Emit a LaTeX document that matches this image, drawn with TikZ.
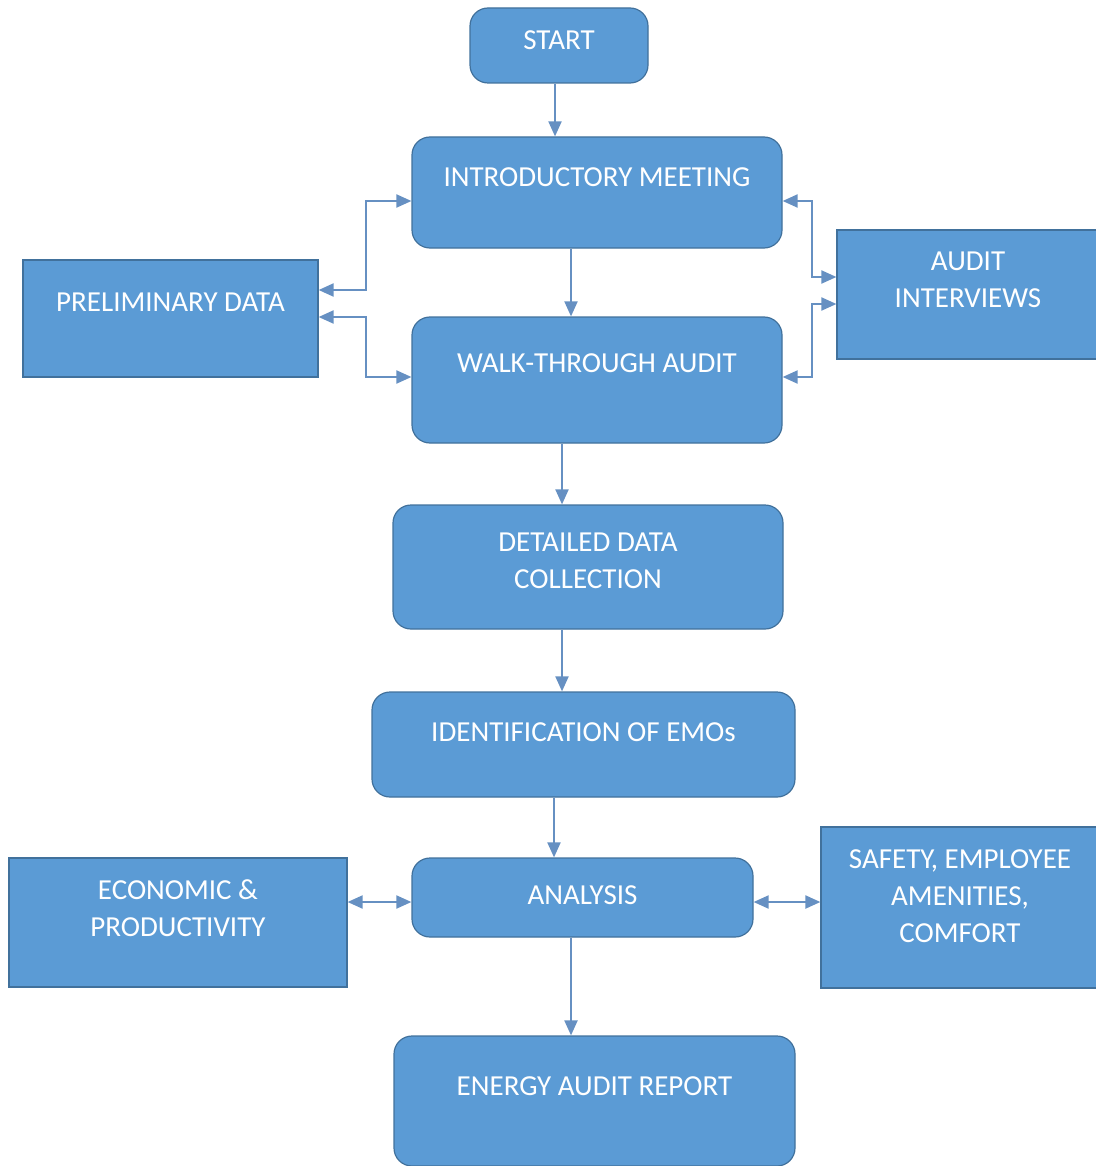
\documentclass[tikz,border=0pt]{standalone}
\usepackage{fontspec}
\setmainfont{Carlito}
\usetikzlibrary{arrows.meta,positioning,calc}
\definecolor{boxFill}{HTML}{5B9BD5}
\definecolor{boxLine}{HTML}{41719C}
\definecolor{linkColor}{HTML}{6690C2}
\tikzset{
	tip/.tip={Triangle[length=15pt,width=13pt]},
	link/.style={draw=linkColor, line width=2pt, -tip},
	both/.style={link, tip-tip}
}
\newcommand{\boxtxt}[2][0pt]{\begin{tabular}{c}#2\\[#1]\end{tabular}}

\begin{document}
\begin{tikzpicture}[x=1pt,y=-1pt,
				proc/.style={draw=boxLine, line width=1.2pt, fill=boxFill, rounded corners=18pt,
					text=white, inner sep=0pt, font=\fontsize{29}{37}\selectfont},
				side/.style={proc, sharp corners}]
				\useasboundingbox (0,0) rectangle (1095,1166);
				
				\node[proc, minimum width=178pt, minimum height=75pt] (start) at (559,45.5) {\boxtxt[6pt]{START}};
				\node[proc, minimum width=370pt, minimum height=111pt] (intro) at (597,192.5) {\boxtxt[26pt]{INTRODUCTORY MEETING}};
				\node[proc, minimum width=370pt, minimum height=126pt] (walk) at (597,380) {\boxtxt[29pt]{WALK-THROUGH AUDIT}};
				\node[proc, minimum width=390pt, minimum height=124pt] (detail) at (588,567) {\boxtxt[9pt]{DETAILED DATA \\ COLLECTION}};
				\node[proc, minimum width=423pt, minimum height=105pt] (emo) at (583.5,744.5) {\boxtxt[20pt]{IDENTIFICATION OF EMOs}};
				\node[proc, minimum width=341pt, minimum height=79pt] (analysis) at (582.5,897.5) {\boxtxt{ANALYSIS}};
				\node[proc, minimum width=401pt, minimum height=130pt] (report) at (594.5,1101) {\boxtxt[25pt]{ENERGY AUDIT REPORT}};
				
				\node[side, minimum width=295pt, minimum height=117pt] (prelim) at (170.5,318.5) {\boxtxt[28pt]{PRELIMINARY DATA}};
				\node[side, minimum width=262pt, minimum height=129pt] (interview) at (968,294.5) {\boxtxt[26pt]{AUDIT \\ INTERVIEWS}};
				\node[side, minimum width=338pt, minimum height=129pt] (econ) at (178,922.5) {\boxtxt[23pt]{ECONOMIC \& \\ PRODUCTIVITY}};
				\node[side, minimum width=278pt, minimum height=161pt] (safety) at (960,907.5) {\boxtxt[18pt]{SAFETY, EMPLOYEE \\ AMENITIES, \\ COMFORT}};
				
				\path[link] ([xshift=-4pt]start.south) -- ([xshift=-4pt]start.south |- intro.north);
				\path[link] ([xshift=-26pt]intro.south) -- ([xshift=-26pt]walk.north);
				\path[link] ([xshift=-35pt]walk.south) -- ([xshift=-35pt]walk.south |- detail.north);
				\path[link] ([xshift=-26pt]detail.south) -- ([xshift=-26pt]detail.south |- emo.north);
				\path[link] ([xshift=-29.5pt]emo.south) -- ([xshift=-29.5pt]emo.south |- analysis.north);
				\path[link] ([xshift=-11.5pt]analysis.south) -- ([xshift=-11.5pt]analysis.south |- report.north);
				
				\path[both] ([yshift=28.5pt]prelim.east) -- ++(47,0) |- ([yshift=-8.5pt]intro.west);
				\path[both] ([yshift=1.5pt]prelim.east) -- ++(47,0) |- ([yshift=3pt]walk.west);
				\path[both] ([yshift=-8.5pt]intro.east) -- ++(29,0) |- ([yshift=17.5pt]interview.west);
				\path[both] ([yshift=3pt]walk.east) -- ++(29,0) |- ([yshift=-9.5pt]interview.west);
				
				\coordinate (anaL) at ([yshift=-4.5pt]analysis.west);
				\coordinate (anaR) at ([yshift=-4.5pt]analysis.east);
				\path[both] (econ.east |- anaL) -- (anaL);
				\path[both] (anaR) -- (safety.west |- anaR);
				%\path[both] (safety.north) -- (interview.south);
\end{tikzpicture}
\end{document}
